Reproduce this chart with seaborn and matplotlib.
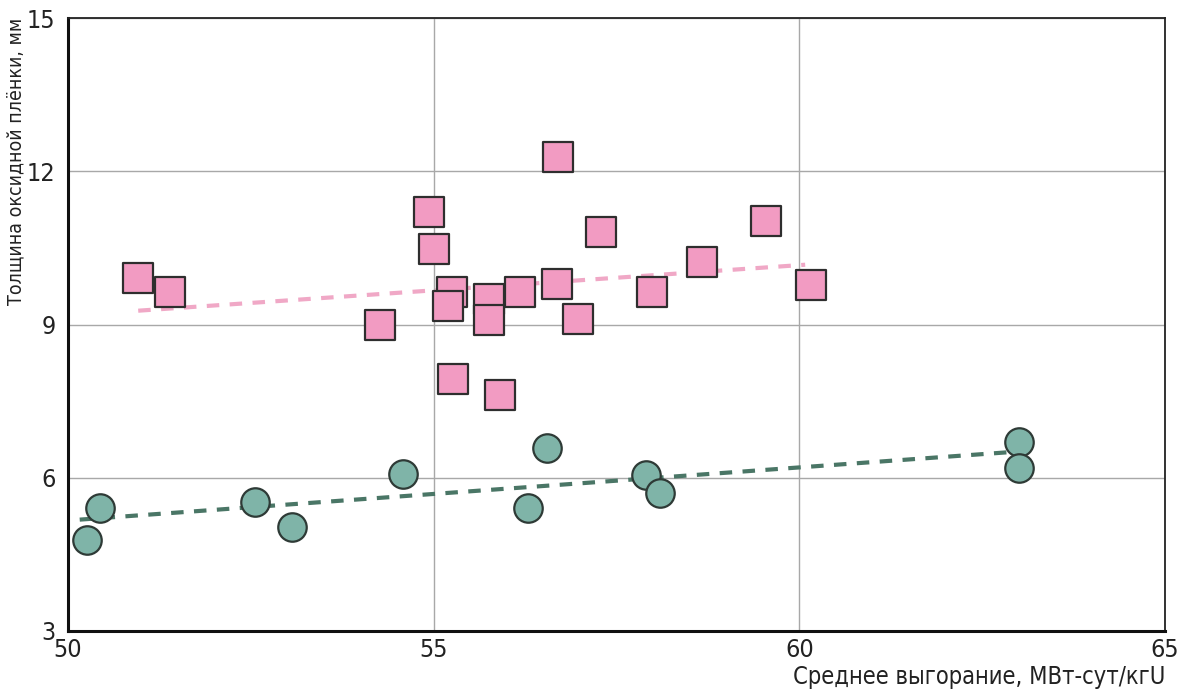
import matplotlib
matplotlib.use("Agg")
import matplotlib.pyplot as plt
from matplotlib import font_manager
import seaborn as sns
import pandas as pd

# Oxide film thickness vs. average burnup
pink_x = [50.96, 51.40, 54.27, 54.94, 55.00, 55.25, 55.20, 55.27, 55.76, 55.76,
          55.91, 56.18, 56.70, 56.69, 56.98, 57.29, 57.98, 58.67, 59.55, 60.16]
pink_y = [9.91, 9.64, 9.00, 11.20, 10.48, 9.64, 9.36, 7.94, 9.50, 9.09,
          7.62, 9.64, 12.28, 9.79, 9.11, 10.81, 9.64, 10.23, 11.03, 9.78]

teal_x = [50.26, 50.44, 52.56, 53.06, 54.58, 56.29, 56.55, 57.91, 58.10, 63.00, 63.00]
teal_y = [4.78, 5.41, 5.53, 5.04, 6.08, 5.41, 6.59, 6.06, 5.70, 6.70, 6.19]

# Linear trend lines (end points)
pink_trend_x = [50.96, 60.08]
pink_trend_y = [9.27, 10.17]
teal_trend_x = [50.16, 62.96]
teal_trend_y = [5.18, 6.51]

x_ticks = [50, 55, 60, 65]
y_ticks = [3, 6, 9, 12, 15]
x_label = "Среднее выгорание, МВт-сут/кгU"
y_label = "Толщина оксидной плёнки, мм"

sns.set_style("white")
plt.rcParams["font.family"] = ["DejaVu Sans"]
plt.rcParams["font.stretch"] = "condensed"

condensed = any("Condensed" in f.fname or f.stretch == "condensed"
                for f in font_manager.fontManager.ttflist if f.name == "DejaVu Sans")
font_kw = {"fontstretch": "condensed"} if condensed else {}

fig = plt.figure(figsize=(11.79, 6.95), dpi=100)
ax = fig.add_axes([68 / 1179, 1 - 631 / 695, (1165 - 68) / 1179, (631 - 18) / 695])

pink_df = pd.DataFrame({"x": pink_x, "y": pink_y})
teal_df = pd.DataFrame({"x": teal_x, "y": teal_y})

ax.grid(True, color="#a8a8a8", linewidth=1.0)
ax.set_axisbelow(True)

sns.lineplot(x=pink_trend_x, y=pink_trend_y, ax=ax, color="#f0a8c6",
             linewidth=3, linestyle="--", zorder=2)
sns.lineplot(x=teal_trend_x, y=teal_trend_y, ax=ax, color="#4a7666",
             linewidth=3, linestyle="--", zorder=2)
for ln in ax.lines:
    ln.set_dashes((3, 2.5))

sns.scatterplot(data=pink_df, x="x", y="y", ax=ax, marker="s", s=440,
                color="#f29bc2", edgecolor="#2e2e2e", linewidth=1.6, zorder=3)
sns.scatterplot(data=teal_df, x="x", y="y", ax=ax, marker="o", s=420,
                color="#7fb4a8", edgecolor="#2e3a36", linewidth=1.6, zorder=3)

ax.set_xlim(50, 65)
ax.set_ylim(3, 15)
ax.set_xticks(x_ticks)
ax.set_yticks(y_ticks)
ax.set_xticklabels([str(v) for v in x_ticks], fontsize=18, **font_kw)
ax.set_yticklabels([str(v) for v in y_ticks], fontsize=18, **font_kw)
ax.tick_params(axis="both", length=0, colors="#222222")
ax.tick_params(axis="x", pad=5)
ax.tick_params(axis="y", pad=9)

ax.set_xlabel("")
ax.set_ylabel("")
fig.text(1165 / 1179, 0.008, x_label, ha="right", va="bottom",
         fontsize=17, color="#222222", **font_kw)
fig.text(6 / 1179, 1 - 18 / 695, y_label, ha="left", va="top", rotation=90,
         fontsize=14, color="#222222", **font_kw)

for side in ["left", "bottom"]:
    ax.spines[side].set_linewidth(2.2)
    ax.spines[side].set_color("#111111")
for side in ["top", "right"]:
    ax.spines[side].set_linewidth(1.3)
    ax.spines[side].set_color("#222222")

fig.savefig("out.png", dpi=100)
